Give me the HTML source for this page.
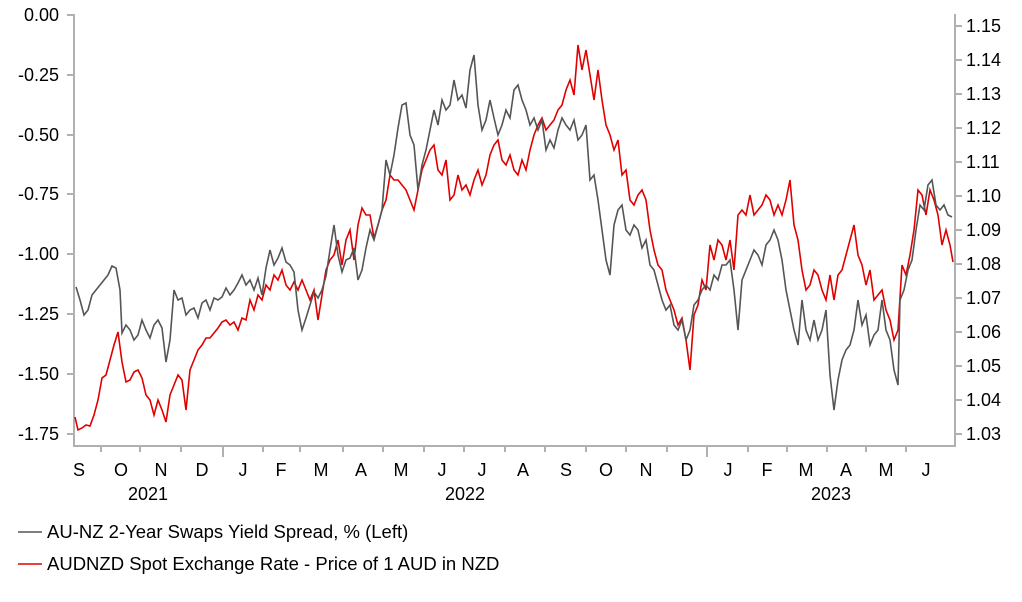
<!DOCTYPE html>
<html><head><meta charset="utf-8"><style>
body{margin:0;background:#fff;width:1022px;height:597px;overflow:hidden}
svg text{font-family:"Liberation Sans",Arial,sans-serif;fill:#000}
</style></head><body>
<svg width="1022" height="597" viewBox="0 0 1022 597">
<g stroke="#b0b0b0" stroke-width="2" fill="none">
<line x1="74" y1="14" x2="74" y2="447"/>
<line x1="955" y1="14" x2="955" y2="447"/>
<line x1="74" y1="446" x2="955" y2="446"/>
<path d="M67 15H74M67 75H74M67 135H74M67 194H74M67 254H74M67 314H74M67 374H74M67 434H74"/>
<path d="M955 26H962M955 60H962M955 94H962M955 128H962M955 162H962M955 196H962M955 230H962M955 264H962M955 298H962M955 332H962M955 366H962M955 400H962M955 434H962"/>
<path d="M101 446V452M140 446V452M181 446V452M223 446V457M263 446V452M300 446V452M343 446V452M383 446V452M424 446V452M464 446V452M505 446V452M545 446V452M586 446V452M626 446V452M667 446V452M707 446V457M748 446V452M787 446V452M827 446V452M866 446V452M906 446V452"/>
</g>
<g font-size="18" text-anchor="end">
<text x="59" y="21">0.00</text><text x="59" y="81">-0.25</text><text x="59" y="141">-0.50</text><text x="59" y="200">-0.75</text><text x="59" y="260">-1.00</text><text x="59" y="320">-1.25</text><text x="59" y="380">-1.50</text><text x="59" y="440">-1.75</text>
</g>
<g font-size="18">
<text x="966" y="32">1.15</text><text x="966" y="66">1.14</text><text x="966" y="100">1.13</text><text x="966" y="134">1.12</text><text x="966" y="168">1.11</text><text x="966" y="202">1.10</text><text x="966" y="236">1.09</text><text x="966" y="270">1.08</text><text x="966" y="304">1.07</text><text x="966" y="338">1.06</text><text x="966" y="372">1.05</text><text x="966" y="406">1.04</text><text x="966" y="440">1.03</text>
</g>
<g font-size="18" text-anchor="middle">
<text x="79" y="476">S</text><text x="121" y="476">O</text><text x="161" y="476">N</text><text x="202" y="476">D</text><text x="243" y="476">J</text><text x="281" y="476">F</text><text x="321" y="476">M</text><text x="361" y="476">A</text><text x="401" y="476">M</text><text x="442" y="476">J</text><text x="482" y="476">J</text><text x="523" y="476">A</text><text x="566" y="476">S</text><text x="606" y="476">O</text><text x="646" y="476">N</text><text x="687" y="476">D</text><text x="728" y="476">J</text><text x="767" y="476">F</text><text x="806" y="476">M</text><text x="846" y="476">A</text><text x="886" y="476">M</text><text x="926" y="476">J</text>
<text x="148" y="500">2021</text><text x="465" y="500">2022</text><text x="831" y="500">2023</text>
</g>
<polyline fill="none" stroke="#e00000" stroke-width="1.6" points="75,417 78,430 82,428 86,425 90,426 94,415 98,400 102,378 106,375 110,360 114,345 118,332 122,362 126,382 130,380 134,372 138,370 142,378 146,395 150,400 154,415 158,400 162,410 166,422 170,395 174,385 178,375 182,380 186,410 190,370 194,360 198,350 202,345 206,338 210,338 214,333 218,328 222,322 226,320 230,325 234,322 238,330 242,318 246,320 250,300 254,310 258,295 262,300 266,285 270,290 274,275 278,280 282,270 286,285 290,290 294,282 298,290 302,280 306,290 310,300 314,290 318,320 322,295 326,270 330,260 334,255 338,240 342,265 346,240 350,230 354,260 358,225 362,208 366,215 370,215 374,238 378,225 382,210 386,200 390,175 394,180 398,180 402,185 406,190 410,200 414,210 418,190 422,170 426,160 430,150 434,145 438,170 442,175 446,160 450,200 454,195 458,175 462,190 466,185 470,195 474,180 478,170 482,185 486,175 490,155 494,145 498,140 502,160 506,165 510,155 514,170 518,175 522,160 526,170 530,150 534,135 538,125 542,118 546,130 550,125 554,120 558,110 562,105 566,90 570,80 574,95 578,45 582,70 586,50 590,75 594,100 598,70 602,100 606,125 610,135 614,150 618,140 622,175 626,170 630,200 634,205 638,195 642,190 646,200 650,230 654,250 658,265 662,270 666,290 670,300 674,310 678,325 682,318 686,340 690,370 694,315 698,305 702,280 706,290 710,245 714,260 718,240 722,245 726,260 730,240 734,270 738,215 742,210 746,215 750,195 754,215 758,210 762,205 766,195 770,200 774,215 778,205 782,215 786,200 790,180 794,225 798,240 802,270 806,290 810,285 814,270 818,275 822,290 826,300 830,275 834,300 838,275 842,270 846,255 850,240 854,225 858,255 862,265 866,285 870,270 874,300 878,295 882,290 886,310 890,320 894,340 898,330 902,265 906,275 910,255 914,230 918,190 922,195 926,215 930,190 934,200 938,215 942,245 946,230 950,245 953,262"/>
<polyline fill="none" stroke="#555" stroke-width="1.6" points="76,287 80,300 84,315 88,310 92,295 100,285 108,275 112,266 116,268 120,290 122,333 126,325 130,330 134,340 138,335 142,320 146,330 150,338 154,325 158,320 162,328 166,362 170,340 174,290 178,300 182,298 186,315 190,310 194,308 198,318 202,303 206,300 210,310 214,298 218,300 222,297 226,288 230,295 234,290 238,283 242,275 246,285 250,280 254,290 258,278 262,295 266,268 270,250 274,265 278,258 282,248 286,262 290,265 294,272 298,310 302,330 306,318 310,305 314,292 318,298 322,290 326,276 330,250 334,225 338,255 342,272 346,260 350,258 354,248 358,280 362,270 366,248 370,230 374,240 378,225 382,210 386,160 390,175 394,155 398,128 402,105 406,103 410,135 414,145 418,190 422,165 426,150 430,130 434,110 438,125 442,100 446,110 450,105 454,80 458,100 462,95 466,108 470,70 474,55 478,105 482,130 486,120 490,100 494,118 498,135 502,125 506,110 510,118 514,90 518,85 522,100 526,110 530,125 534,118 538,130 542,120 546,150 550,140 554,148 558,130 562,118 566,125 570,130 574,120 578,140 582,135 586,125 590,180 594,175 598,200 602,230 606,260 610,275 614,225 618,210 622,205 626,230 630,235 634,225 638,230 642,248 646,240 650,265 654,270 658,285 662,300 666,310 670,305 674,325 678,330 682,320 686,340 690,330 694,305 698,300 702,290 706,285 710,290 714,275 718,280 722,265 726,265 730,260 734,290 738,330 742,280 746,270 750,260 754,250 758,255 762,265 766,245 770,240 774,230 778,240 782,260 786,290 790,310 794,330 798,345 802,300 806,330 810,340 814,320 818,340 822,330 826,310 830,375 834,410 838,380 842,360 846,350 850,345 854,330 858,300 862,325 866,315 870,345 874,335 878,330 882,300 886,330 890,340 894,370 898,385 900,300 904,290 908,270 912,260 916,230 920,205 924,210 928,185 932,180 936,205 940,210 944,205 948,215 952,217"/>
<line x1="18" y1="532" x2="42" y2="532" stroke="#555" stroke-width="1.6"/>
<line x1="18" y1="564" x2="42" y2="564" stroke="#e00000" stroke-width="1.6"/>
<text x="47" y="538" font-size="18.5">AU-NZ 2-Year Swaps Yield Spread, % (Left)</text>
<text x="47" y="570" font-size="18.5">AUDNZD Spot Exchange Rate - Price of 1 AUD in NZD</text>
</svg>
</body></html>
